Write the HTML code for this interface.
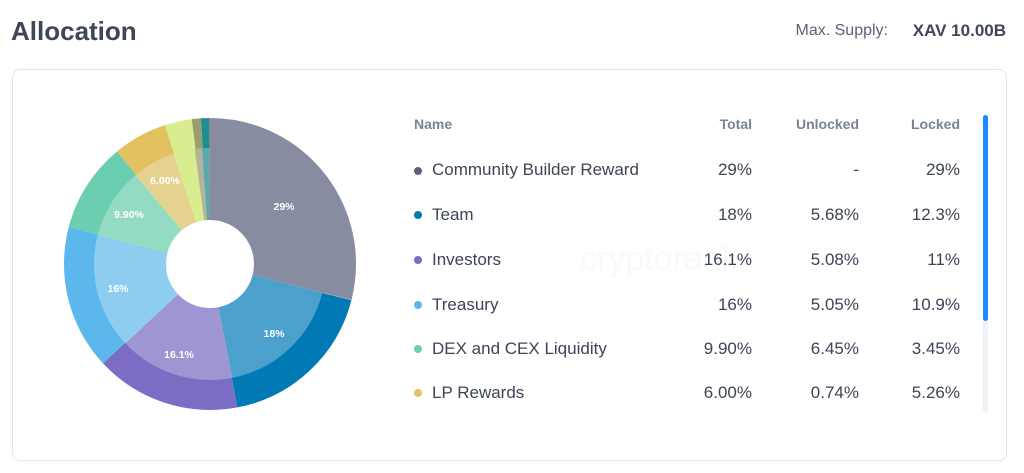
<!DOCTYPE html>
<html><head><meta charset="utf-8"><style>
body{margin:0;width:1024px;height:473px;background:#fff;font-family:"Liberation Sans",sans-serif;position:relative;overflow:hidden;color:#3d4458}
.a{position:absolute;white-space:nowrap}
.card{position:absolute;left:12px;top:69px;width:993px;height:390px;border:1px solid #e1e5eb;border-radius:8px}
.h{font-size:14px;color:#7a8396;top:116px;font-weight:bold}
.r{font-size:17px;color:#3d4458}
.dot{position:absolute;width:8px;height:8px;border-radius:50%}
</style></head><body>
<div class="a" style="left:11px;top:16px;font-size:26px;font-weight:bold;color:#3f4658">Allocation</div>
<div class="a" style="right:136px;top:22px;font-size:16px;color:#5a6275">Max. Supply:</div>
<div class="a" style="right:18px;top:21px;font-size:17px;font-weight:bold;color:#3f4658">XAV 10.00B</div>
<div class="card"></div>
<svg class="a" style="left:0;top:0" width="400" height="473">
<g transform="rotate(-90 210 264)" fill="none">
<g stroke-width="31">
<circle cx="210" cy="264" r="130.5" pathLength="100" stroke="#0079b4" stroke-dasharray="18 82" stroke-dashoffset="-29"/>
<circle cx="210" cy="264" r="130.5" pathLength="100" stroke="#7b6cc4" stroke-dasharray="16.1 83.9" stroke-dashoffset="-47"/>
<circle cx="210" cy="264" r="130.5" pathLength="100" stroke="#5cb8ec" stroke-dasharray="16 84" stroke-dashoffset="-63.1"/>
<circle cx="210" cy="264" r="130.5" pathLength="100" stroke="#6bceb0" stroke-dasharray="9.9 90.1" stroke-dashoffset="-79.1"/>
<circle cx="210" cy="264" r="130.5" pathLength="100" stroke="#e2c260" stroke-dasharray="6 94" stroke-dashoffset="-89"/>
<circle cx="210" cy="264" r="130.5" pathLength="100" stroke="#d9ec8f" stroke-dasharray="3 97" stroke-dashoffset="-95"/>
<circle cx="210" cy="264" r="130.5" pathLength="100" stroke="#9a9e6e" stroke-dasharray="1 99" stroke-dashoffset="-98"/>
<circle cx="210" cy="264" r="130.5" pathLength="100" stroke="#1f8d92" stroke-dasharray="1 99" stroke-dashoffset="-99"/>
</g>
<g stroke-width="72">
<circle cx="210" cy="264" r="80" pathLength="100" stroke="#4ba1cb" stroke-dasharray="18 82" stroke-dashoffset="-29"/>
<circle cx="210" cy="264" r="80" pathLength="100" stroke="#9e96d3" stroke-dasharray="16.1 83.9" stroke-dashoffset="-47"/>
<circle cx="210" cy="264" r="80" pathLength="100" stroke="#8ecdf0" stroke-dasharray="16 84" stroke-dashoffset="-63.1"/>
<circle cx="210" cy="264" r="80" pathLength="100" stroke="#94dbc4" stroke-dasharray="9.9 90.1" stroke-dashoffset="-79.1"/>
<circle cx="210" cy="264" r="80" pathLength="100" stroke="#e6d290" stroke-dasharray="6 94" stroke-dashoffset="-89"/>
<circle cx="210" cy="264" r="80" pathLength="100" stroke="#d9ec8f" stroke-dasharray="3 97" stroke-dashoffset="-95"/>
<circle cx="210" cy="264" r="80" pathLength="100" stroke="#b3b598" stroke-dasharray="1 99" stroke-dashoffset="-98"/>
<circle cx="210" cy="264" r="80" pathLength="100" stroke="#5ca9ad" stroke-dasharray="1 99" stroke-dashoffset="-99"/>
</g>
<circle cx="210" cy="264" r="95" pathLength="100" stroke="#878ca0" stroke-width="102" stroke-dasharray="29 71" stroke-dashoffset="0"/>
</g>
<g font-size="10.5" font-weight="bold" fill="#fff" text-anchor="middle">
<text x="284" y="210">29%</text>
<text x="274" y="337">18%</text>
<text x="179" y="358">16.1%</text>
<text x="118" y="292">16%</text>
<text x="129" y="218">9.90%</text>
<text x="165" y="184">6.00%</text>
</g>
</svg>
<div class="a" style="left:580px;top:240px;font-size:34px;color:#f8f9fb">cryptorank</div>
<div class="a h" style="left:414px">Name</div>
<div class="a h" style="right:272px">Total</div>
<div class="a h" style="right:165px">Unlocked</div>
<div class="a h" style="right:64px">Locked</div>
<div style="position:absolute;left:983px;top:115px;width:5px;height:298px;background:#eef3f8;border-radius:3px"></div>
<div style="position:absolute;left:983px;top:115px;width:5px;height:206px;background:#1a8cff;border-radius:3px"></div>
<div class="dot" style="left:414px;top:167px;background:#5a5f7a"></div>
<div class="a r" style="left:432px;top:160px">Community Builder Reward</div><div class="a r" style="right:272px;top:160px">29%</div><div class="a r" style="right:165px;top:160px">-</div><div class="a r" style="right:64px;top:160px">29%</div>
<div class="dot" style="left:414px;top:211px;background:#0079b4"></div>
<div class="a r" style="left:432px;top:205px">Team</div><div class="a r" style="right:272px;top:205px">18%</div><div class="a r" style="right:165px;top:205px">5.68%</div><div class="a r" style="right:64px;top:205px">12.3%</div>
<div class="dot" style="left:414px;top:256px;background:#7b6cc4"></div>
<div class="a r" style="left:432px;top:250px">Investors</div><div class="a r" style="right:272px;top:250px">16.1%</div><div class="a r" style="right:165px;top:250px">5.08%</div><div class="a r" style="right:64px;top:250px">11%</div>
<div class="dot" style="left:414px;top:301px;background:#5cb8ec"></div>
<div class="a r" style="left:432px;top:295px">Treasury</div><div class="a r" style="right:272px;top:295px">16%</div><div class="a r" style="right:165px;top:295px">5.05%</div><div class="a r" style="right:64px;top:295px">10.9%</div>
<div class="dot" style="left:414px;top:345px;background:#6bceb0"></div>
<div class="a r" style="left:432px;top:339px">DEX and CEX Liquidity</div><div class="a r" style="right:272px;top:339px">9.90%</div><div class="a r" style="right:165px;top:339px">6.45%</div><div class="a r" style="right:64px;top:339px">3.45%</div>
<div class="dot" style="left:414px;top:389px;background:#e2c260"></div>
<div class="a r" style="left:432px;top:383px">LP Rewards</div><div class="a r" style="right:272px;top:383px">6.00%</div><div class="a r" style="right:165px;top:383px">0.74%</div><div class="a r" style="right:64px;top:383px">5.26%</div>
</body></html>
